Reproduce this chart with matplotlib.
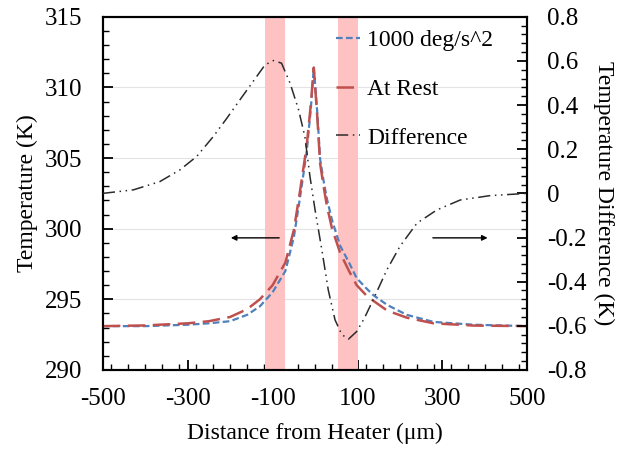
import numpy as np
import matplotlib
matplotlib.use("Agg")
import matplotlib.pyplot as plt
from matplotlib.ticker import MultipleLocator, FuncFormatter

plt.rcParams['font.family'] = ['Liberation Serif', 'DejaVu Serif']
plt.rcParams['axes.unicode_minus'] = False

# temperature profiles (left axis, K)
dist_um = [-500, -400, -300, -250, -200, -160, -130, -100, -70, -50, -35, -20, -10, -3,
           5, 12, 20, 28, 40, 59, 80, 98, 120, 137, 170, 216, 279, 373, 500]
temp_rest = [293.1, 293.15, 293.3, 293.45, 293.75, 294.3, 295.0, 296.0, 297.6, 299.9,
             302.75, 305.8, 308.8, 311.4, 308.0, 304.6, 303.0, 301.6, 300.0, 298.3, 297.0,
             296.0, 295.3, 294.9, 294.2, 293.7, 293.3, 293.14, 293.1]
temp_1000 = [293.1, 293.1, 293.2, 293.3, 293.45, 293.9, 294.5, 295.5, 297.0, 299.4,
             302.3, 305.4, 308.5, 311.4, 308.3, 304.9, 303.4, 302.1, 300.6, 298.8, 297.6,
             296.5, 295.8, 295.3, 294.6, 293.9, 293.4, 293.2, 293.1]

# difference (right axis, K)
diff_x = [-500, -428, -366, -318, -279, -240, -208, -177, -146, -118, -98, -79, -59, -39,
          -24, -12, 0, 16, 31, 47, 63, 79, 98, 115, 135, 169, 200, 240, 287, 342, 413,
          483, 500]
diff_k = [0.0, 0.016, 0.053, 0.107, 0.167, 0.257, 0.34, 0.424, 0.507, 0.582, 0.602, 0.59,
          0.50, 0.38, 0.257, 0.076, -0.075, -0.256, -0.437, -0.573, -0.64, -0.66, -0.626,
          -0.57, -0.49, -0.347, -0.24, -0.135, -0.075, -0.03, -0.01, -0.002, 0.0]

# heater bands
bands = [(-118, -72), (55, 100)]

x_ticks = [-500, -300, -100, 100, 300, 500]

fig = plt.figure(figsize=(6.27, 4.55), dpi=100)
ax = fig.add_axes([0.164, 0.187, 0.677, 0.776])
ax2 = ax.twinx()

for lo, hi in bands:
    ax.axvspan(lo, hi, color='#ffc2c2', lw=0, zorder=1)

ax.grid(axis='y', color='#e3e3e3', lw=0.8, zorder=0)
ax.set_axisbelow(True)

l1, = ax.plot(dist_um, temp_1000, color='#4f81bd', lw=1.6, ls=(0, (3, 1.5)),
              label='1000 deg/s^2', zorder=3)
l2, = ax.plot(dist_um, temp_rest, color='#c0504d', lw=1.8, ls=(0, (7, 3)),
              label='At Rest', zorder=3)
l3, = ax2.plot(diff_x, diff_k, color='#2b2b2b', lw=1.1, ls=(0, (8, 3, 1, 3, 1, 3)),
               label='Difference', zorder=3)

ax.set_xlim(-500, 500)
ax.set_ylim(290, 315)
ax2.set_ylim(-0.8, 0.8)

ax.set_xticks(x_ticks)
ax.xaxis.set_minor_locator(MultipleLocator(40))
ax.yaxis.set_major_locator(MultipleLocator(5))
ax.yaxis.set_minor_locator(MultipleLocator(1))
ax2.yaxis.set_major_locator(MultipleLocator(0.2))
ax2.yaxis.set_minor_locator(MultipleLocator(0.04))
ax2.yaxis.set_major_formatter(FuncFormatter(lambda v, p: f"{v:g}" if abs(v) > 1e-9 else "0"))

for a in (ax, ax2):
    a.tick_params(which='major', direction='in', length=7, width=1.3, labelsize=18)
    a.tick_params(which='minor', direction='in', length=4, width=1.0)
    for s in a.spines.values():
        s.set_linewidth(1.5)
ax.tick_params(axis='x', pad=13)
ax.tick_params(axis='y', pad=15)
ax2.tick_params(axis='y', pad=14)

ax.set_xlabel('Distance from Heater (μm)', fontsize=17, labelpad=9)
ax.set_ylabel('Temperature (K)', fontsize=17, labelpad=5)
ax2.set_ylabel('Temperature Difference (K)', fontsize=17, rotation=270, labelpad=20)

# direction arrows
ax.annotate('', xy=(-205, 299.35), xytext=(-78, 299.35),
            arrowprops=dict(arrowstyle='-|>', color='black', lw=1.0, mutation_scale=8))
ax.annotate('', xy=(413, 299.35), xytext=(271, 299.35),
            arrowprops=dict(arrowstyle='-|>', color='black', lw=1.0, mutation_scale=8))

ax2.legend(handles=[l1, l2, l3], loc='upper left', bbox_to_anchor=(0.528, 0.99),
           frameon=False, fontsize=17, handlelength=1.0, handletextpad=0.3,
           labelspacing=1.15, borderaxespad=0)

fig.savefig('out.png', dpi=100)
